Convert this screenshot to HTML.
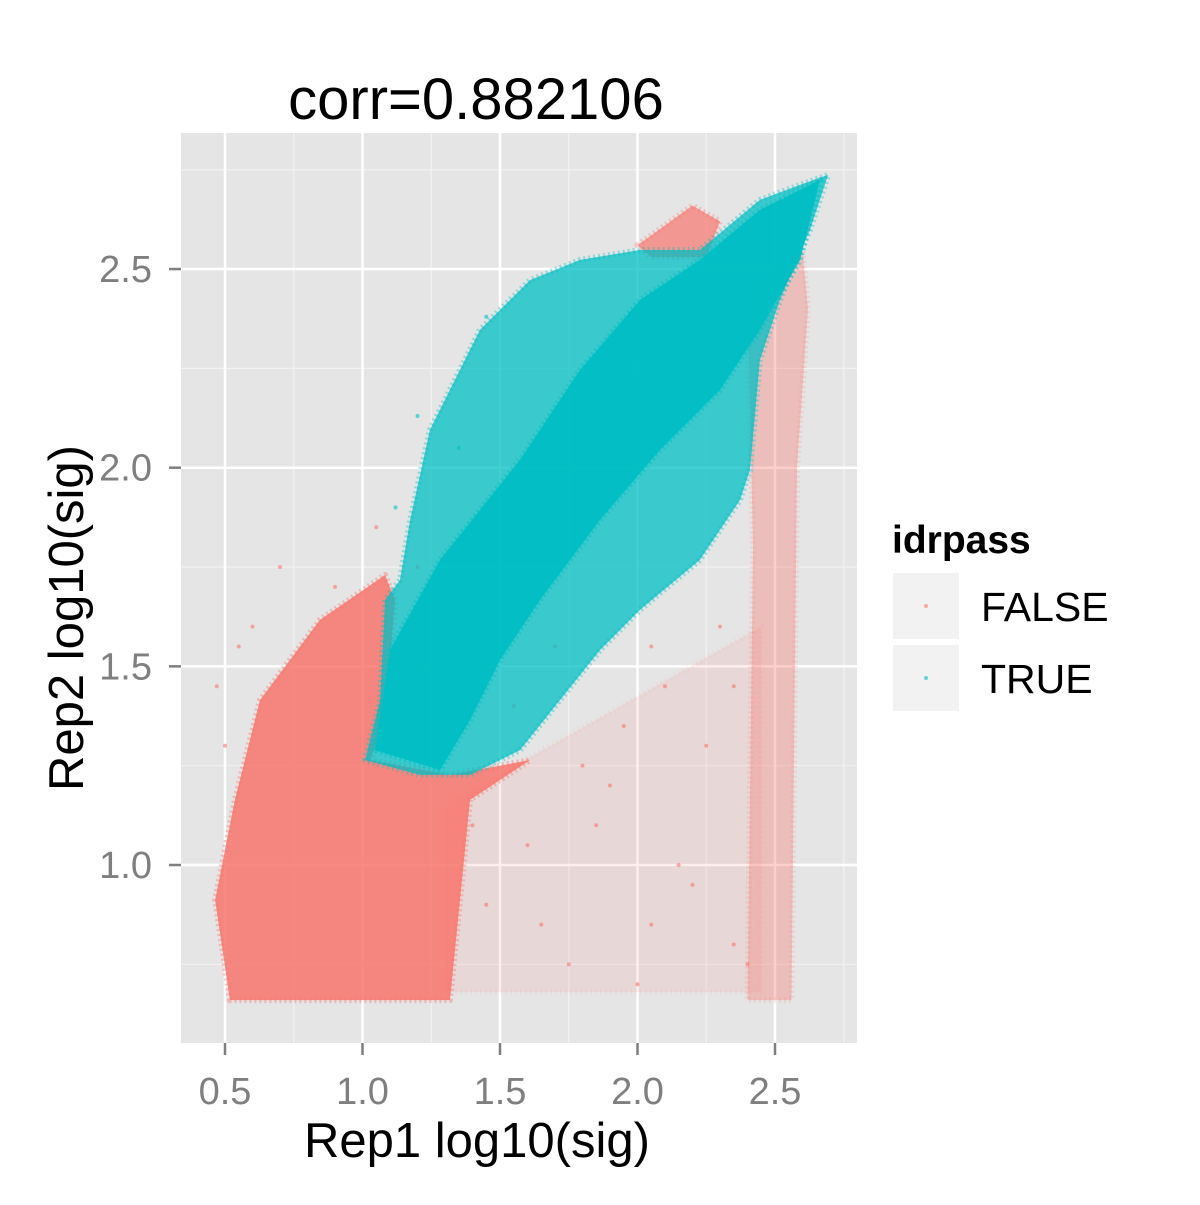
<!DOCTYPE html>
<html><head><meta charset="utf-8"><style>
body{margin:0;background:#fff;width:1200px;height:1200px;overflow:hidden}
svg text{font-family:"Liberation Sans",sans-serif}
</style></head><body>
<svg id="chart" width="1200" height="1200">
<rect x="0" y="0" width="1200" height="1200" fill="#fff"/>
<rect x="181" y="133" width="676" height="910" fill="#e5e5e5"/>
<g id="grid"></g>
<g id="marks"></g>
<g id="axes"></g>
<text x="476" y="119" font-size="58" text-anchor="middle">corr=0.882106</text>
<text x="477" y="1157" font-size="49" text-anchor="middle">Rep1 log10(sig)</text>
<text transform="translate(83,618) rotate(-90)" font-size="49" text-anchor="middle">Rep2 log10(sig)</text>
<g>
<text x="892" y="553" font-size="39" font-weight="bold">idrpass</text>
<rect x="893" y="573" width="66" height="66" fill="#f2f2f2"/>
<circle cx="926" cy="606" r="2" fill="#F8766D" opacity="0.6"/>
<text x="981" y="621" font-size="41">FALSE</text>
<rect x="893" y="645" width="66" height="66" fill="#f2f2f2"/>
<circle cx="926" cy="678" r="2" fill="#00BFC4" opacity="0.6"/>
<text x="981" y="693" font-size="41">TRUE</text>
</g>
</svg>
<script>
const xTicks=[0.5,1.0,1.5,2.0,2.5];
const yTicks=[1.0,1.5,2.0,2.5];
const xTickLabels=["0.5","1.0","1.5","2.0","2.5"];
const yTickLabels=["1.0","1.5","2.0","2.5"];
const xMinor=[0.75,1.25,1.75,2.25,2.75];
const yMinor=[0.75,1.25,1.75,2.25,2.75];
// density region outlines (Rep1, Rep2)
const falseDenseX=[0.518,0.464,0.536,0.627,0.845,1.082,1.118,1.082,1.027,1.318,1.609,1.391,1.318,0.773];
const falseDenseY=[0.660,0.912,1.164,1.415,1.617,1.730,1.667,1.365,1.264,1.227,1.264,1.164,0.660,0.660];
const falseRightX=[2.40,2.60,2.62,2.58,2.56,2.40,2.42];
const falseRightY=[2.45,2.55,2.40,2.00,0.66,0.66,1.80];
const falseCapX=[2.00,2.20,2.30,2.25,2.05];
const falseCapY=[2.56,2.66,2.62,2.53,2.53];
const falseSparseX=[1.30,2.45,2.45,1.30];
const falseSparseY=[0.68,0.68,1.60,1.15];
const trueX=[1.009,1.064,1.082,1.136,1.173,1.245,1.427,1.609,1.791,2.009,2.227,2.445,2.591,2.693,2.627,2.518,2.445,2.409,2.373,2.227,2.009,1.864,1.718,1.573,1.391,1.209];
const trueY=[1.264,1.415,1.667,1.717,1.868,2.095,2.347,2.472,2.523,2.548,2.548,2.674,2.712,2.737,2.598,2.422,2.271,1.994,1.919,1.768,1.642,1.541,1.415,1.289,1.227,1.227];
const trueCoreX=[1.045,1.100,1.282,1.573,1.791,2.009,2.227,2.445,2.664,2.591,2.445,2.300,2.082,1.864,1.645,1.500,1.391,1.282];
const trueCoreY=[1.289,1.541,1.768,2.020,2.246,2.422,2.523,2.649,2.724,2.523,2.347,2.196,2.045,1.869,1.667,1.516,1.365,1.239];
// scattered outlier points
const falsePtsX=[0.47,0.50,0.55,0.60,1.45,1.60,1.75,1.90,2.05,2.15,2.25,2.35,1.55,1.70,1.85,2.00,2.10,2.30,1.40,1.65,1.95,2.20,2.05,1.80,2.40,2.35,0.70,0.90,1.05,1.20];
const falsePtsY=[1.45,1.30,1.55,1.60,0.90,1.05,0.75,1.20,0.85,1.00,1.30,0.80,1.40,1.55,1.10,0.70,1.45,1.60,1.10,0.85,1.35,0.95,1.55,1.25,0.75,1.45,1.75,1.70,1.85,1.75];
const truePtsX=[1.45,1.20,1.12,1.35,2.45];
const truePtsY=[2.38,2.13,1.90,2.05,2.55];

const NS="http://www.w3.org/2000/svg";
function X(v){return 225+(v-0.5)*275;}
function Y(v){return 865-(v-1)*397.3;}
function mk(tag,attrs,parent){const e=document.createElementNS(NS,tag);for(const k in attrs)e.setAttribute(k,attrs[k]);parent.appendChild(e);return e;}
const grid=document.getElementById('grid'),marks=document.getElementById('marks'),axes=document.getElementById('axes');
xMinor.forEach(v=>{const l=mk('line',{x1:X(v),x2:X(v),y1:133,y2:1043,stroke:'#f2f2f2','stroke-width':1.2},grid);

});
yMinor.forEach(v=>{const l=mk('line',{x1:181,x2:857,y1:Y(v),y2:Y(v),stroke:'#f2f2f2','stroke-width':1.2},grid);

});
xTicks.forEach((v,i)=>{const l=mk('line',{x1:X(v),x2:X(v),y1:133,y2:1043,stroke:'#fff','stroke-width':2.5},grid);


const t=mk('line',{x1:X(v),x2:X(v),y1:1043,y2:1055,stroke:'#7f7f7f','stroke-width':2.5},axes);


const s=mk('text',{x:X(v),y:1104,'font-size':38,fill:'#7f7f7f','text-anchor':'middle'},axes);s.textContent=xTickLabels[i];

});
yTicks.forEach((v,i)=>{const l=mk('line',{x1:181,x2:857,y1:Y(v),y2:Y(v),stroke:'#fff','stroke-width':2.5},grid);


const t=mk('line',{x1:169,x2:181,y1:Y(v),y2:Y(v),stroke:'#7f7f7f','stroke-width':2.5},axes);


const s=mk('text',{x:152,y:Y(v)+13,'font-size':38,fill:'#7f7f7f','text-anchor':'end'},axes);s.textContent=yTickLabels[i];

});
function poly(xs,ys,fill,op){return mk('polygon',{points:xs.map((x,i)=>X(x)+','+Y(ys[i])).join(' '),fill:fill,'fill-opacity':op,stroke:fill,'stroke-opacity':op*0.5,'stroke-width':6,'stroke-dasharray':'2 3','stroke-linejoin':'round'},marks);}
let p;
p=poly(falseSparseX,falseSparseY,'#F8766D',0.12);


p=poly(falseRightX,falseRightY,'#F8766D',0.35);


p=poly(falseCapX,falseCapY,'#F8766D',0.7);


p=poly(falseDenseX,falseDenseY,'#F8766D',0.85);


falsePtsX.forEach((x,i)=>{const c=mk('circle',{cx:X(x),cy:Y(falsePtsY[i]),r:2,fill:'#F8766D','fill-opacity':0.6},marks);

});
p=poly(trueX,trueY,'#00BFC4',0.75);


p=poly(trueCoreX,trueCoreY,'#00BFC4',0.95);


truePtsX.forEach((x,i)=>{const c=mk('circle',{cx:X(x),cy:Y(truePtsY[i]),r:2,fill:'#00BFC4','fill-opacity':0.6},marks);

});
</script>
</body></html>
